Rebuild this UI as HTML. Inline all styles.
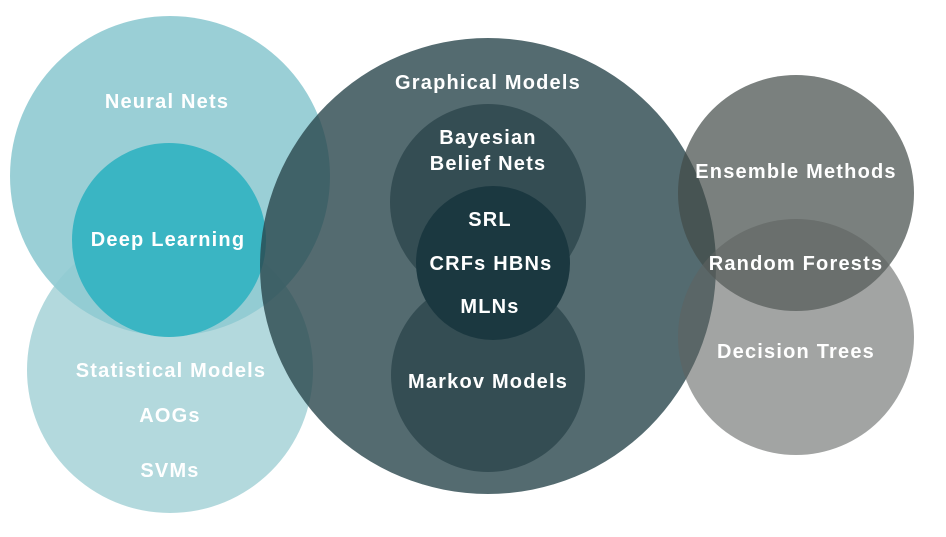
<!DOCTYPE html>
<html><head><style>
html,body{margin:0;padding:0;background:#fff;}
svg text{font-family:"Liberation Sans",sans-serif;font-weight:bold;fill:#fff;font-size:20px;letter-spacing:1.2px;text-anchor:middle;}
</style></head><body>
<svg width="946" height="532" viewBox="0 0 946 532" xmlns="http://www.w3.org/2000/svg">
<circle cx="170" cy="370" r="143" fill="#b3d9dd"/>
<circle cx="170" cy="176" r="160" fill="#8fcad1" opacity="0.9"/>
<circle cx="169" cy="240" r="97" fill="#3ab5c3"/>
<circle cx="488" cy="266" r="228" fill="#29464c" opacity="0.8"/>
<circle cx="488" cy="202" r="98" fill="#2a4349" opacity="0.75"/>
<circle cx="488" cy="375" r="97" fill="#2a4349" opacity="0.75"/>
<circle cx="493" cy="263" r="77" fill="#1b3840"/>
<circle cx="796" cy="193" r="118" fill="#424a47" opacity="0.7"/>
<circle cx="796" cy="337" r="118" fill="#5f6361" opacity="0.58"/>
<text x="167" y="108">Neural Nets</text>
<text x="168" y="246">Deep Learning</text>
<text x="171" y="377">Statistical Models</text>
<text x="170" y="422">AOGs</text>
<text x="170" y="477">SVMs</text>
<text x="488" y="89">Graphical Models</text>
<text x="488" y="144">Bayesian</text>
<text x="488" y="170">Belief Nets</text>
<text x="490" y="226">SRL</text>
<text x="491" y="270">CRFs  HBNs</text>
<text x="490" y="313">MLNs</text>
<text x="488" y="388">Markov Models</text>
<text x="796" y="178">Ensemble Methods</text>
<text x="796" y="270">Random Forests</text>
<text x="796" y="358">Decision Trees</text>
</svg>
</body></html>
